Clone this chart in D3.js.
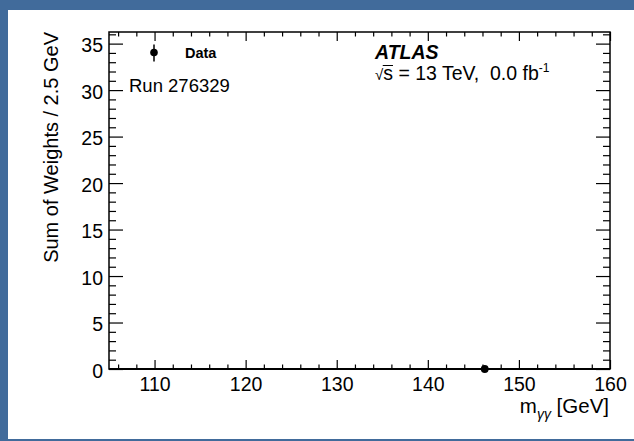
<!DOCTYPE html>
<html>
<head>
<meta charset="utf-8">
<script src="https://cdn.jsdelivr.net/npm/d3@7/dist/d3.min.js"></script>
<style>
  html, body { margin: 0; padding: 0; background: #416b9b; }
  svg { display: block; }
  text { font-family: "Liberation Sans", Arial, Helvetica, sans-serif; fill: #000; white-space: pre; }
</style>
</head>
<body>
<svg id="chart" width="634" height="441"></svg>
<script>
// Diphoton invariant mass histogram, 2.5 GeV bins
const massBins = [146.25];          // bin centres with an entry [GeV]
const weights = [0];                // sum of weights per bin
const weightErrors = [0];           // statistical error per bin
const xMajorTicks = [110, 120, 130, 140, 150, 160];
const yMajorTicks = [0, 5, 10, 15, 20, 25, 30, 35];
const xDomain = [105, 160];
const yDomain = [0, 36.25];
const runLabel = "Run 276329";
const legendLabel = "Data";
const experimentLabel = "ATLAS";

const svg = d3.select("#chart");
const font = "Liberation Sans, Arial, Helvetica, sans-serif";

// slide background and white canvas
svg.append("rect").attr("width", 634).attr("height", 441).attr("fill", "#416b9b");
svg.append("rect").attr("x", 8).attr("y", 10).attr("width", 626).attr("height", 429).attr("fill", "#fff");

const frame = { left: 109, right: 610, top: 32, bottom: 369 };
const x = d3.scaleLinear().domain(xDomain).range([frame.left, frame.right]);
const y = d3.scaleLinear().domain(yDomain).range([frame.bottom, frame.top]);

const xMinor = d3.range(106, 160.01, 2).filter(v => v % 10 !== 0);
const yMinor = d3.range(0, 36.01, 1).filter(v => v % 5 !== 0);

function styleAxis(g) {
  g.select(".domain").remove();
  g.selectAll("line").attr("stroke", "#000").attr("stroke-width", 1.2);
}

// bottom axis: inward ticks + labels
const gx = svg.append("g").attr("transform", `translate(0,${frame.bottom})`);
gx.call(d3.axisBottom(x).tickValues(xMajorTicks).tickSize(-9).tickPadding(12).tickFormat(d3.format("d")))
  .call(styleAxis);
gx.selectAll("text").attr("font-size", 19.5).attr("font-family", font).attr("dy", "0.71em").attr("y", 8);
gx.append("g").call(d3.axisBottom(x).tickValues(xMinor).tickSize(-4.5).tickFormat(""))
  .call(styleAxis);

// top axis: ticks only
const gxt = svg.append("g").attr("transform", `translate(0,${frame.top})`);
gxt.call(d3.axisTop(x).tickValues(xMajorTicks).tickSize(-9).tickFormat("")).call(styleAxis);
gxt.append("g").call(d3.axisTop(x).tickValues(xMinor).tickSize(-4.5).tickFormat("")).call(styleAxis);

// left axis
const gy = svg.append("g").attr("transform", `translate(${frame.left},0)`);
gy.call(d3.axisLeft(y).tickValues(yMajorTicks).tickSize(-14).tickPadding(0).tickFormat(d3.format("d")))
  .call(styleAxis);
gy.selectAll("text").attr("font-size", 19.5).attr("font-family", font).attr("x", -6).attr("dy", "0.42em");
gy.append("g").call(d3.axisLeft(y).tickValues(yMinor).tickSize(-7).tickFormat("")).call(styleAxis);

// right axis: ticks only
const gyr = svg.append("g").attr("transform", `translate(${frame.right},0)`);
gyr.call(d3.axisRight(y).tickValues(yMajorTicks).tickSize(-14).tickFormat("")).call(styleAxis);
gyr.append("g").call(d3.axisRight(y).tickValues(yMinor).tickSize(-7).tickFormat("")).call(styleAxis);

// frame
svg.append("rect")
  .attr("x", frame.left).attr("y", frame.top)
  .attr("width", frame.right - frame.left).attr("height", frame.bottom - frame.top)
  .attr("fill", "none").attr("stroke", "#000").attr("stroke-width", 1.5);
svg.append("line")
  .attr("x1", frame.left).attr("x2", frame.right)
  .attr("y1", frame.bottom).attr("y2", frame.bottom)
  .attr("stroke", "#000").attr("stroke-width", 2);

// data points with error bars
const pts = massBins.map((m, i) => ({ m, w: weights[i], e: weightErrors[i] }));
const gData = svg.append("g");
gData.selectAll("line.err").data(pts).join("line").attr("class", "err")
  .attr("x1", d => x(d.m)).attr("x2", d => x(d.m))
  .attr("y1", d => y(Math.max(0, d.w - d.e))).attr("y2", d => y(d.w + d.e))
  .attr("stroke", "#000").attr("stroke-width", 1.5);
gData.selectAll("circle").data(pts).join("circle")
  .attr("cx", d => x(d.m)).attr("cy", d => y(d.w)).attr("r", 3.9).attr("fill", "#000");

// legend
svg.append("line").attr("x1", 154).attr("x2", 154).attr("y1", 44.5).attr("y2", 61.5)
  .attr("stroke", "#000").attr("stroke-width", 1.5);
svg.append("circle").attr("cx", 154).attr("cy", 52.5).attr("r", 3.8).attr("fill", "#000");
svg.append("text").attr("x", 185).attr("y", 57.5).attr("font-size", 14.5).attr("font-weight", "bold")
  .text(legendLabel);

svg.append("text").attr("x", 129).attr("y", 92).attr("font-size", 18.5).text(runLabel);

// experiment label
svg.append("text").attr("x", 375).attr("y", 59).attr("font-size", 19.5)
  .attr("font-weight", "bold").attr("font-style", "italic").text(experimentLabel);

// centre-of-mass energy and luminosity
const lineY = 80, lx = 375;
const root = svg.append("text").attr("x", lx).attr("y", lineY).attr("font-size", 19.5);
const sq = root.append("tspan").attr("font-size", 15).text("√");
const sTs = root.append("tspan").text("s");
root.append("tspan").text(" = 13 TeV,  0.0 fb");
root.append("tspan").attr("font-size", 12).attr("dy", -8).text("-1");
const sqW = sq.node().getComputedTextLength();
const sW = sTs.node().getComputedTextLength();
svg.append("line").attr("x1", lx + sqW - 0.5).attr("x2", lx + sqW + sW)
  .attr("y1", lineY - 14.5).attr("y2", lineY - 14.5).attr("stroke", "#000").attr("stroke-width", 1);

// axis titles
svg.append("text")
  .attr("transform", "translate(58,32) rotate(-90)")
  .attr("text-anchor", "end").attr("font-size", 20)
  .text("Sum of Weights / 2.5 GeV");

const xt = svg.append("text").attr("x", frame.right - 1).attr("y", 413)
  .attr("text-anchor", "end").attr("font-size", 20.5);
xt.append("tspan").text("m");
xt.append("tspan").attr("font-size", 14).attr("font-style", "italic").attr("dy", 6).text("γγ");
xt.append("tspan").attr("dy", -6).text(" [GeV]");
</script>
</body>
</html>
